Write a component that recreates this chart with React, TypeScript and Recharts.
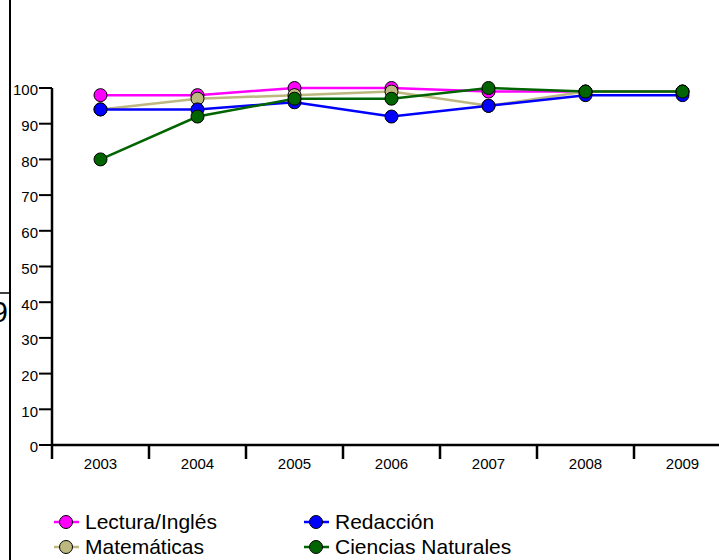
import React from 'react';
import { LineChart, Line, XAxis, YAxis } from 'recharts';

const years = ['2003', '2004', '2005', '2006', '2007', '2008', '2009'];
const lectura = [98, 98, 100, 100, 99, 99, 99];
const matematicas = [94, 97, 98, 99, 95, 99, 99];
const redaccion = [94, 94, 96, 92, 95, 98, 98];
const ciencias = [80, 92, 97, 97, 100, 99, 99];
const yTicks = [0, 10, 20, 30, 40, 50, 60, 70, 80, 90, 100];

const series = [
  { key: 'lectura', name: 'Lectura/Inglés', color: '#FF00FF', values: lectura },
  { key: 'matematicas', name: 'Matemáticas', color: '#BDB87F', values: matematicas },
  { key: 'redaccion', name: 'Redacción', color: '#0000FF', values: redaccion },
  { key: 'ciencias', name: 'Ciencias Naturales', color: '#006400', values: ciencias },
];

// legend is laid out in two columns, row by row
const legendOrder = ['lectura', 'redaccion', 'matematicas', 'ciencias'];

const data = years.map((year, i) => {
  const row: Record<string, string | number> = { year };
  series.forEach((s) => {
    row[s.key] = s.values[i];
  });
  return row;
});

const FONT = '"Liberation Sans", Arial, Helvetica, sans-serif';

const XTick = (props: any) => {
  const { x, y, payload, width, visibleTicksCount } = props;
  const step = width && visibleTicksCount ? width / visibleTicksCount : 97;
  const edge = x - step / 2;
  return (
    <g>
      <line x1={edge} x2={edge} y1={y - 12} y2={y + 2} stroke="#000" strokeWidth={2.5} />
      <text x={x} y={y} dy="0.8em" textAnchor="middle" fill="#000" fontSize={15} fontFamily={FONT}>
        {payload.value}
      </text>
    </g>
  );
};

const LegendItem = ({ name, color }: { name: string; color: string }) => (
  <div style={{ display: 'flex', alignItems: 'center', height: 25 }}>
    <svg width={32} height={20} style={{ flex: 'none' }}>
      <line x1={1} x2={26} y1={10} y2={10} stroke={color} strokeWidth={2.5} />
      <circle cx={13} cy={10} r={6.5} fill={color} stroke="#000" strokeWidth={1} />
    </svg>
    <span style={{ fontSize: 21, fontFamily: FONT, color: '#000', lineHeight: '25px' }}>{name}</span>
  </div>
);

export default function App() {
  const legendItems = legendOrder.map((k) => series.find((s) => s.key === k)!);
  return (
    <div
      style={{
        position: 'absolute',
        left: 0,
        top: 0,
        width: 719,
        height: 560,
        overflow: 'hidden',
        background: '#fff',
      }}
    >
      <LineChart width={740} height={560} data={data} margin={{ top: 88, right: 9, bottom: 85, left: 0 }}>
        <XAxis
          dataKey="year"
          scale="band"
          height={30}
          tickLine={false}
          tickSize={12}
          tickMargin={0}
          interval={0}
          axisLine={{ stroke: '#000', strokeWidth: 2.5 }}
          tick={<XTick />}
        />
        <YAxis
          width={52}
          domain={[0, 100]}
          ticks={yTicks}
          interval={0}
          tickSize={13}
          tickMargin={1}
          axisLine={{ stroke: '#000', strokeWidth: 2.5 }}
          tickLine={{ stroke: '#000', strokeWidth: 2 }}
          tick={{ fill: '#000', fontSize: 15, fontFamily: FONT, dy: 2 }}
        />
        {series.map((s) => (
          <Line
            key={s.key}
            dataKey={s.key}
            name={s.name}
            stroke={s.color}
            strokeWidth={2.5}
            dot={{ r: 6.5, fill: s.color, stroke: '#000', strokeWidth: 1 }}
            activeDot={false}
            isAnimationActive={false}
          />
        ))}
      </LineChart>

      {/* outer frame edge and the clipped label on the left */}
      <svg width={20} height={560} style={{ position: 'absolute', left: 0, top: 0 }}>
        <line x1={10} x2={10} y1={0} y2={560} stroke="#000" strokeWidth={2} />
        <line x1={0} x2={10} y1={293} y2={293} stroke="#000" strokeWidth={1.5} />
        <text x={8} y={322} textAnchor="end" fontSize={30} fontFamily={FONT} fill="#000">
          9
        </text>
      </svg>

      <div
        style={{
          position: 'absolute',
          left: 53,
          top: 509,
          display: 'grid',
          gridTemplateColumns: '250px 260px',
        }}
      >
        {legendItems.map((s) => (
          <LegendItem key={s.key} name={s.name} color={s.color} />
        ))}
      </div>
    </div>
  );
}
